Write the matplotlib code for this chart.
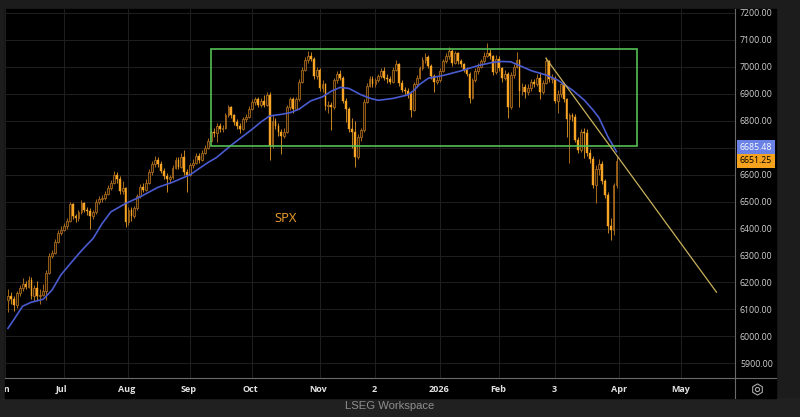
import numpy as np
import matplotlib
matplotlib.use("Agg")
import matplotlib.pyplot as plt
from matplotlib.patches import Rectangle
from matplotlib.lines import Line2D
from matplotlib.ticker import FormatStrFormatter

# ---- data (x = trading-day index, 0 = first trading day of Jun 2025) ----
first_day = 2
first_open = 6135
closes = [
    6150, 6140, 6115, 6160, 6180, 6195, 6185, 6210, 6150, 6180,
    6150, 6155, 6170, 6235, 6300, 6310, 6350, 6385, 6395, 6410,
    6430, 6490, 6445, 6440, 6460, 6495, 6470, 6465, 6445, 6460,
    6500, 6510, 6515, 6530, 6550, 6570, 6600, 6585, 6540, 6550,
    6425, 6470, 6445, 6475, 6520, 6555, 6545, 6570, 6610, 6640,
    6655, 6640, 6615, 6595, 6585, 6590, 6625, 6655, 6630, 6665,
    6610, 6600, 6635, 6645, 6670, 6655, 6680, 6700, 6725, 6760,
    6755, 6780, 6770, 6775, 6820, 6850, 6820, 6795, 6780, 6770,
    6805, 6815, 6845, 6870, 6880, 6860, 6875, 6860, 6895, 6705,
    6800, 6780, 6760, 6745, 6760, 6850, 6880, 6845, 6880, 6945,
    6990, 7025, 7040, 7030, 6965, 6990, 6920, 6935, 6855, 6860,
    6850, 6950, 6975, 6960, 6875, 6845, 6770, 6760, 6665, 6740,
    6765, 6870, 6930, 6955, 6935, 6950, 6965, 6985, 6960, 6955,
    6945, 6990, 7010, 6940, 6915, 6910, 6900, 6840, 6935, 6960,
    6995, 7025, 7035, 7005, 6965, 6945, 6950, 6985, 7020, 7040,
    7060, 7015, 7050, 7020, 7010, 6990, 6975, 6885, 6950, 6985,
    7000, 7020, 7040, 7050, 7040, 6980, 7030, 6995, 6960, 6975,
    6850, 6970, 7000, 7025, 6910, 6925, 6905, 6920, 6945, 6935,
    6960, 6905, 6940, 7020, 6955, 6960, 6875, 6900, 6935, 6880,
    6805, 6820, 6815, 6730, 6690, 6760, 6755, 6680, 6660, 6560,
    6620, 6640, 6575, 6525, 6410, 6395, 6560, 6651.25,
]
highs = [
    6175, 6165, 6150, 6170, 6190, 6215, 6205, 6225, 6220, 6190,
    6205, 6175, 6195, 6245, 6310, 6320, 6360, 6395, 6410, 6420,
    6440, 6500, 6495, 6455, 6470, 6505, 6500, 6480, 6475, 6470,
    6510, 6520, 6525, 6540, 6560, 6580, 6615, 6610, 6595, 6575,
    6555, 6480, 6480, 6485, 6530, 6565, 6570, 6585, 6620, 6650,
    6670, 6665, 6650, 6625, 6605, 6600, 6635, 6665, 6665, 6680,
    6690, 6620, 6645, 6660, 6680, 6680, 6690, 6710, 6735, 6770,
    6775, 6790, 6790, 6785, 6830, 6860, 6855, 6825, 6805, 6790,
    6815, 6825, 6855, 6880, 6890, 6890, 6885, 6895, 6905, 6905,
    6820, 6810, 6790, 6770, 6775, 6860, 6890, 6890, 6890, 6955,
    7000, 7035, 7058, 7055, 7035, 7000, 6995, 6950, 6940, 6875,
    6870, 6960, 6985, 6990, 6965, 6885, 6850, 6810, 6800, 6750,
    6775, 6880, 6940, 6965, 6965, 6960, 6975, 6995, 7000, 6975,
    6965, 7000, 7025, 7015, 6950, 6925, 6920, 6905, 6945, 6970,
    7005, 7035, 7050, 7045, 7010, 6975, 6965, 6995, 7030, 7050,
    7075, 7065, 7060, 7055, 7030, 7015, 7000, 6980, 6960, 6995,
    7015, 7030, 7055, 7090, 7065, 7045, 7045, 7040, 7000, 6990,
    6980, 6980, 7010, 7055, 7030, 6940, 6935, 6935, 6955, 6955,
    6975, 6980, 6950, 7037, 7025, 6975, 6965, 6915, 6945, 6940,
    6885, 6830, 6830, 6825, 6740, 6770, 6775, 6770, 6695, 6670,
    6635, 6660, 6650, 6585, 6535, 6440, 6570, 6665,
]
lows = [
    6090, 6120, 6095, 6105, 6150, 6170, 6175, 6180, 6140, 6130,
    6135, 6120, 6150, 6135, 6230, 6290, 6305, 6345, 6375, 6390,
    6400, 6425, 6435, 6425, 6430, 6455, 6460, 6450, 6400, 6435,
    6455, 6490, 6500, 6505, 6525, 6545, 6565, 6570, 6530, 6530,
    6405, 6415, 6430, 6440, 6470, 6515, 6535, 6540, 6565, 6600,
    6630, 6630, 6605, 6585, 6535, 6570, 6585, 6620, 6620, 6625,
    6600, 6535, 6595, 6625, 6640, 6645, 6650, 6675, 6695, 6720,
    6740, 6720, 6760, 6760, 6770, 6815, 6810, 6785, 6770, 6755,
    6765, 6795, 6810, 6840, 6860, 6850, 6850, 6850, 6855, 6655,
    6700, 6770, 6745, 6675, 6735, 6755, 6840, 6830, 6840, 6875,
    6940, 6985, 7015, 7020, 6955, 6955, 6910, 6905, 6840, 6830,
    6765, 6845, 6940, 6950, 6865, 6795, 6760, 6700, 6630, 6660,
    6725, 6760, 6865, 6925, 6925, 6925, 6945, 6960, 6950, 6940,
    6935, 6940, 6985, 6930, 6905, 6895, 6885, 6815, 6835, 6925,
    6955, 6990, 7015, 6995, 6955, 6905, 6935, 6945, 6980, 7015,
    7030, 7005, 7010, 7010, 7000, 6980, 6965, 6866, 6880, 6945,
    6975, 6995, 7015, 7035, 7030, 6970, 6975, 6985, 6945, 6950,
    6810, 6845, 6960, 6995, 6850, 6895, 6885, 6895, 6910, 6925,
    6930, 6880, 6900, 6935, 6945, 6940, 6865, 6830, 6890, 6870,
    6740, 6645, 6800, 6720, 6680, 6685, 6662, 6670, 6645, 6550,
    6495, 6600, 6565, 6515, 6385, 6358, 6375, 6550,
]

# moving average
ma_days = [2, 4, 7, 10, 12, 14, 17, 20, 24, 27, 31, 34, 37, 42, 47, 53,
           58, 64, 70, 73, 78, 85, 88, 91, 95, 98, 101, 105, 109, 112, 115,
           118, 122, 125, 128, 133, 138, 140, 142, 145, 150, 156, 162, 167,
           170, 173, 176, 180, 185, 189, 194, 198, 201, 203, 206, 209]
ma_values = [6030, 6062, 6112, 6127, 6132, 6138, 6172, 6228, 6280, 6318,
             6364, 6418, 6462, 6493, 6518, 6553, 6572, 6600, 6645, 6664,
             6710, 6768, 6795, 6818, 6824, 6830, 6843, 6874, 6889, 6910,
             6924, 6920, 6897, 6884, 6876, 6883, 6896, 6912, 6935, 6958,
             6968, 6985, 7005, 7017, 7020, 7019, 7005, 6986, 6970, 6951,
             6914, 6877, 6840, 6812, 6742, 6685.48]

# drawings
box_days = [71, 216]
box_prices = [6708, 7067]
trend_days = [185, 243]
trend_prices = [7032, 6164]

month_idx = [1, 21, 43, 64, 85, 108, 127, 149, 169, 188, 210, 231]
month_labels = ['Jun', 'Jul', 'Aug', 'Sep', 'Oct', 'Nov', '2', '2026',
                'Feb', '3', 'Apr', 'May']
price_ticks = list(range(5900, 7300, 100))

# ---- styling ----
W, H = 800, 417
BG = '#1c1c1c'
UP_EDGE = '#a86a1c'
UP_FACE = '#24170a'
DOWN = '#f8a424'
MA_COL = '#4a5bd0'
GRID = '#1f1f1f'
SEP = '#6a6a6a'
TXT = '#cfcfcf'
FONT = ['Open Sans', 'DejaVu Sans']

plt.rcParams['font.family'] = FONT


def fx(px):
    return px / W


def fh(px):
    return px / H


fig = plt.figure(figsize=(W / 100, H / 100), dpi=100, facecolor=BG)

# black chart panel and bottom band
fig.add_artist(Rectangle((0, 0), 1, fh(19), transform=fig.transFigure,
                         color='#202020', zorder=-2))
fig.add_artist(Rectangle((fx(5), fh(19)), fx(771), fh(389),
                         transform=fig.transFigure, color='black', zorder=-1))

ax = fig.add_axes([fx(5), fh(417 - 378), fx(730), fh(369)])
ax.set_facecolor('black')
x_lo, x_hi = 1.66, 249.3
ax.set_xlim(x_lo, x_hi)
ax.set_ylim(5845.6, 7214.8)

# candles
days = np.arange(first_day, first_day + len(closes))
c = np.array(closes, dtype=float)
o = np.r_[first_open, c[:-1]]
hi = np.array(highs, dtype=float)
lo = np.array(lows, dtype=float)
up = c >= o
dn = ~up

ax.vlines(days[up], lo[up], hi[up], color=UP_EDGE, lw=0.7, zorder=2)
ax.vlines(days[dn], lo[dn], hi[dn], color='#c8861f', lw=0.7, zorder=2)
ax.bar(days[up], np.maximum(c - o, 3)[up], bottom=o[up], width=0.62,
       facecolor=UP_FACE, edgecolor=UP_EDGE, lw=0.6, zorder=3)
ax.bar(days[dn], np.maximum(o - c, 3)[dn], bottom=c[dn], width=0.62,
       color=DOWN, edgecolor=DOWN, lw=0.3, zorder=3)

# moving average
ax.plot(ma_days, ma_values, color=MA_COL, lw=1.2, zorder=4,
        solid_joinstyle='round')

# range box and trend line
ax.add_patch(Rectangle((box_days[0], box_prices[0]), box_days[1] - box_days[0],
                       box_prices[1] - box_prices[0], fill=False,
                       edgecolor='#55c055', lw=1.2, zorder=5))
ax.plot(trend_days, trend_prices, color='#c8b25a', lw=0.9, zorder=5)

ax.text(92.6, 6439, 'SPX', color='#f0a030', fontsize=9.4, va='center',
        ha='left')

# grid and axes
ax.set_xticks(month_idx)
ax.set_yticks(price_ticks)
ax.grid(True, color=GRID, lw=0.7)
ax.set_axisbelow(True)
ax.tick_params(axis='x', length=0, labelbottom=False)
ax.yaxis.tick_right()
ax.yaxis.set_major_formatter(FormatStrFormatter('%.2f'))
ax.tick_params(axis='y', length=0, pad=3.6, labelsize=6.3, labelcolor=TXT)
for s in ax.spines.values():
    s.set_visible(False)

# last value tags
ax.annotate(f'{ma_values[-1]:.2f}', xy=(1, ma_values[-1]),
            xycoords=('axes fraction', 'data'), xytext=(3.6, 3),
            textcoords='offset points', va='center', ha='left',
            fontsize=6.3, color='white', annotation_clip=False,
            bbox=dict(boxstyle='square,pad=0.3', fc='#6a82e6', ec='none'))
ax.annotate(f'{closes[-1]:.2f}', xy=(1, closes[-1]),
            xycoords=('axes fraction', 'data'), xytext=(3.6, 0),
            textcoords='offset points', va='center', ha='left',
            fontsize=6.3, color='black', annotation_clip=False,
            bbox=dict(boxstyle='square,pad=0.3', fc='#f5a21e', ec='none'))

# month strip
strip = fig.add_axes([fx(5), fh(19), fx(730), fh(20)])
strip.set_facecolor('black')
strip.set_xlim(x_lo, x_hi)
strip.set_ylim(0, 1)
strip.axis('off')
for idx, lab in zip(month_idx, month_labels):
    strip.text(idx, 0.45, lab, ha='center', va='center', fontsize=6.5,
               fontweight='bold', color='#e2e2e2', clip_on=True)

# separators
fig.add_artist(Line2D([fx(735), fx(735)], [fh(417 - 9), fh(417 - 398)],
                      transform=fig.transFigure, color=SEP, lw=0.8, zorder=6))
fig.add_artist(Line2D([fx(5), fx(776)], [fh(417 - 378), fh(417 - 378)],
                      transform=fig.transFigure, color=SEP, lw=0.8, zorder=6))

# settings icon
fig.add_artist(Line2D([fx(757)], [fh(417 - 389)], marker='h', markersize=8,
                      mfc='none', mec='#a8a8a8', mew=0.8,
                      transform=fig.transFigure, zorder=6))
fig.add_artist(Line2D([fx(757)], [fh(417 - 389)], marker='o', markersize=3,
                      mfc='none', mec='#a8a8a8', mew=0.8,
                      transform=fig.transFigure, zorder=6))

fig.text(fx(390), fh(417 - 406), 'LSEG Workspace', ha='center', va='center',
         fontsize=8.1, color='#8e8e8e', family=['Liberation Sans', 'DejaVu Sans'])

fig.savefig('out.png', dpi=100, facecolor=BG)
